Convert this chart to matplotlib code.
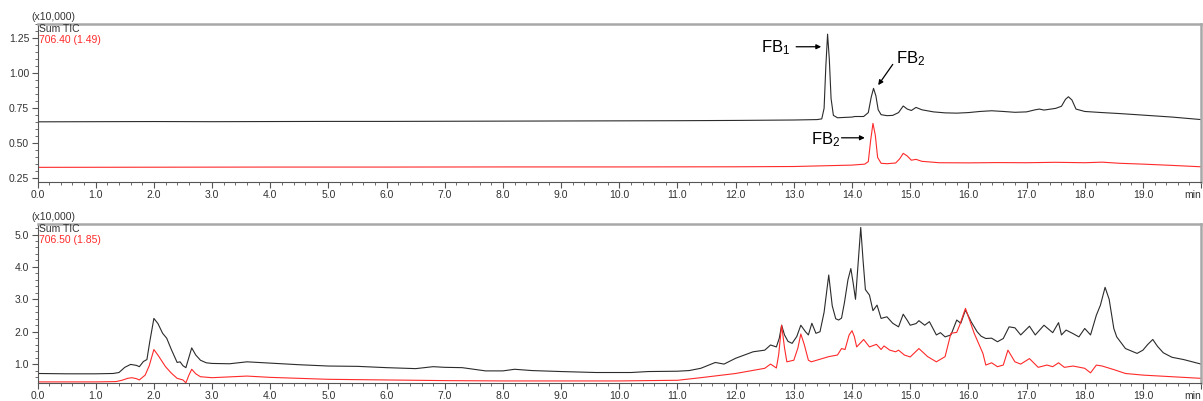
import matplotlib
matplotlib.use("Agg")
import matplotlib.pyplot as plt
from matplotlib.ticker import MultipleLocator, FixedLocator

plt.rcParams['font.family'] = ['Liberation Sans', 'DejaVu Sans']
plt.rcParams['mathtext.fontset'] = 'custom'
plt.rcParams['mathtext.rm'] = 'Liberation Sans'
plt.rcParams['mathtext.it'] = 'Liberation Sans'

# ---------------- data (x10,000 counts vs minutes) ----------------
top_black_t = [0.0, 1.0, 2.0, 3.0, 4.0, 5.0, 6.0, 7.0, 8.0, 9.0, 10.0, 11.0, 12.0, 13.0, 13.4,
               13.48, 13.52, 13.55, 13.58, 13.61, 13.64, 13.68, 13.75, 14.0, 14.05, 14.2, 14.28,
               14.33, 14.37, 14.41, 14.45, 14.5, 14.6, 14.7, 14.8, 14.88, 14.95, 15.02, 15.1, 15.2,
               15.4, 15.6, 15.8, 16.0, 16.2, 16.4, 16.6, 16.8, 17.0, 17.15, 17.22, 17.3, 17.5, 17.6,
               17.67, 17.72, 17.78, 17.85, 18.0, 18.3, 18.6, 19.0, 19.5, 20.0]
top_black_v = [0.654, 0.655, 0.656, 0.655, 0.656, 0.657, 0.657, 0.658, 0.659, 0.660, 0.661, 0.662,
               0.664, 0.667, 0.670, 0.675, 0.75, 1.05, 1.28, 1.10, 0.82, 0.70, 0.683, 0.688, 0.692,
               0.692, 0.72, 0.83, 0.893, 0.84, 0.74, 0.705, 0.698, 0.700, 0.72, 0.767, 0.745, 0.735,
               0.757, 0.74, 0.725, 0.718, 0.716, 0.72, 0.728, 0.733, 0.728, 0.722, 0.725, 0.740,
               0.745, 0.738, 0.75, 0.765, 0.815, 0.833, 0.81, 0.745, 0.728, 0.72, 0.713, 0.702,
               0.688, 0.670]

top_red_t = [0.0, 2.0, 4.0, 6.0, 8.0, 10.0, 12.0, 13.0, 14.0, 14.22, 14.28, 14.32, 14.36, 14.40,
             14.44, 14.5, 14.6, 14.75, 14.82, 14.88, 14.95, 15.02, 15.1, 15.2, 15.5, 16.0, 16.5,
             17.0, 17.5, 18.0, 18.3, 18.6, 19.0, 19.5, 20.0]
top_red_v = [0.329, 0.330, 0.331, 0.331, 0.332, 0.332, 0.333, 0.335, 0.345, 0.352, 0.37, 0.52,
             0.643, 0.56, 0.40, 0.358, 0.355, 0.36, 0.39, 0.429, 0.41, 0.38, 0.386, 0.372, 0.362,
             0.361, 0.363, 0.362, 0.365, 0.362, 0.366, 0.358, 0.352, 0.343, 0.333]

bot_black_t = [0.0, 0.5, 1.0, 1.3, 1.4, 1.5, 1.6, 1.7, 1.75, 1.82, 1.88, 1.93, 2.0, 2.07, 2.15,
               2.22, 2.3, 2.4, 2.45, 2.5, 2.55, 2.6, 2.65, 2.72, 2.8, 2.9, 3.0, 3.3, 3.6, 3.8, 4.0,
               4.5, 5.0, 5.5, 6.0, 6.5, 6.8, 7.0, 7.3, 7.7, 8.0, 8.2, 8.5, 9.0, 9.6, 10.2, 10.5,
               11.0, 11.2, 11.4, 11.55, 11.65, 11.8, 12.0, 12.3, 12.5, 12.6, 12.7, 12.75, 12.79,
               12.84, 12.9, 12.97, 13.05, 13.12, 13.2, 13.25, 13.31, 13.38, 13.45, 13.52, 13.6,
               13.66, 13.72, 13.77, 13.82, 13.87, 13.93, 13.98, 14.02, 14.06, 14.1, 14.15, 14.19,
               14.23, 14.3, 14.36, 14.43, 14.5, 14.6, 14.7, 14.8, 14.88, 14.95, 15.0, 15.1, 15.15,
               15.25, 15.33, 15.45, 15.52, 15.6, 15.7, 15.8, 15.87, 15.95, 16.05, 16.15, 16.22,
               16.3, 16.4, 16.5, 16.6, 16.7, 16.8, 16.9, 17.05, 17.15, 17.3, 17.45, 17.55, 17.6,
               17.68, 17.8, 17.9, 18.0, 18.1, 18.2, 18.27, 18.35, 18.42, 18.5, 18.55, 18.7, 18.9,
               19.0, 19.08, 19.17, 19.25, 19.35, 19.5, 19.7, 20.0]
bot_black_v = [0.71, 0.70, 0.70, 0.71, 0.74, 0.90, 0.99, 0.96, 0.92, 1.08, 1.14, 1.7, 2.41, 2.25,
               1.95, 1.80, 1.45, 1.05, 1.07, 0.95, 0.89, 1.2, 1.50, 1.28, 1.12, 1.04, 1.02, 1.01,
               1.07, 1.05, 1.03, 0.98, 0.94, 0.93, 0.89, 0.86, 0.92, 0.90, 0.89, 0.79, 0.79, 0.84,
               0.80, 0.77, 0.74, 0.74, 0.77, 0.78, 0.80, 0.87, 0.98, 1.05, 1.00, 1.18, 1.38, 1.43,
               1.59, 1.53, 1.8, 2.20, 1.90, 1.70, 1.64, 1.85, 2.20, 2.0, 1.90, 2.26, 1.95, 2.00,
               2.6, 3.75, 2.8, 2.40, 2.36, 2.42, 2.9, 3.6, 3.95, 3.5, 3.0, 4.0, 5.22, 4.2, 3.3,
               3.13, 2.65, 2.82, 2.41, 2.46, 2.26, 2.15, 2.54, 2.35, 2.20, 2.25, 2.34, 2.20, 2.31,
               1.90, 1.97, 1.84, 1.90, 2.36, 2.26, 2.67, 2.3, 2.0, 1.86, 1.79, 1.80, 1.69, 1.79,
               2.15, 2.12, 1.90, 2.17, 1.90, 2.20, 1.97, 2.28, 1.90, 2.05, 1.94, 1.84, 2.10, 1.90,
               2.51, 2.82, 3.37, 3.0, 2.1, 1.84, 1.48, 1.33, 1.43, 1.6, 1.76, 1.55, 1.35, 1.21,
               1.14, 1.00]

bot_red_t = [0.0, 1.0, 1.35, 1.45, 1.55, 1.62, 1.7, 1.75, 1.85, 1.92, 2.0, 2.08, 2.2, 2.3, 2.4,
             2.5, 2.55, 2.6, 2.65, 2.72, 2.8, 3.0, 3.6, 4.0, 4.5, 5.0, 6.0, 7.0, 8.0, 9.0, 10.0,
             11.0, 11.4, 12.0, 12.5, 12.6, 12.7, 12.74, 12.79, 12.84, 12.88, 13.0, 13.07, 13.12,
             13.18, 13.25, 13.3, 13.45, 13.6, 13.75, 13.82, 13.88, 13.95, 14.0, 14.04, 14.08,
             14.2, 14.3, 14.42, 14.5, 14.55, 14.65, 14.75, 14.8, 14.9, 15.0, 15.15, 15.3, 15.45,
             15.6, 15.7, 15.8, 15.85, 15.95, 16.1, 16.25, 16.3, 16.4, 16.5, 16.6, 16.68, 16.8,
             16.9, 17.05, 17.2, 17.35, 17.45, 17.55, 17.65, 17.8, 18.0, 18.1, 18.2, 18.3, 18.5,
             18.7, 19.0, 19.5, 20.0]
bot_red_v = [0.45, 0.45, 0.46, 0.50, 0.56, 0.58, 0.55, 0.51, 0.66, 0.95, 1.45, 1.25, 0.92, 0.72,
             0.56, 0.51, 0.42, 0.65, 0.84, 0.70, 0.61, 0.58, 0.63, 0.59, 0.56, 0.53, 0.51, 0.49,
             0.48, 0.48, 0.48, 0.50, 0.58, 0.71, 0.87, 1.00, 0.88, 1.3, 2.20, 1.5, 1.07, 1.12,
             1.5, 1.93, 1.6, 1.12, 1.07, 1.15, 1.23, 1.28, 1.48, 1.45, 1.9, 2.03, 1.85, 1.53,
             1.76, 1.53, 1.61, 1.45, 1.56, 1.43, 1.38, 1.43, 1.28, 1.22, 1.48, 1.23, 1.07, 1.23,
             1.95, 1.98, 2.20, 2.72, 1.95, 1.33, 0.97, 1.04, 0.92, 0.97, 1.43, 1.07, 1.00, 1.17,
             0.90, 0.97, 0.92, 1.04, 0.90, 0.94, 0.87, 0.73, 0.97, 0.94, 0.83, 0.71, 0.66, 0.61,
             0.56]

x_ticks = [float(i) for i in range(21)]
x_tick_labels = [f"{i:.1f}" for i in range(20)] + ["min"]
top_yticks = [0.25, 0.50, 0.75, 1.00, 1.25]
bot_yticks = [1.0, 2.0, 3.0, 4.0, 5.0]
top_labels = ["Sum TIC", "706.40 (1.49)"]
bot_labels = ["Sum TIC", "706.50 (1.85)"]

BLACK = "#2b2b2b"
RED = "#ff2a2a"
GRID_GRAY = "#a8a8a8"
TXT = "#333333"

fig = plt.figure(figsize=(12.03, 4.01), dpi=100)
ax1 = fig.add_axes([0.0312, 0.546, 0.9672, 0.394])
ax2 = fig.add_axes([0.0312, 0.046, 0.9672, 0.395])


def style(ax, yticks, fmt, ylim, minor_y, labels):
    ax.set_xlim(0, 20)
    ax.set_ylim(*ylim)
    ax.xaxis.set_major_locator(FixedLocator(x_ticks))
    ax.set_xticklabels(x_tick_labels)
    ax.get_xticklabels()[-1].set_horizontalalignment('right')
    ax.xaxis.set_minor_locator(MultipleLocator(0.2))
    ax.yaxis.set_major_locator(FixedLocator(yticks))
    ax.set_yticklabels([fmt.format(v) for v in yticks])
    ax.yaxis.set_minor_locator(MultipleLocator(minor_y))
    ax.tick_params(axis='both', which='major', direction='out', length=4, width=0.8,
                   color="#555555", labelsize=7.5, labelcolor=TXT, pad=2)
    ax.tick_params(axis='both', which='minor', direction='out', length=2, width=0.6,
                   color="#555555")
    for s in ("left", "bottom"):
        ax.spines[s].set_color("#555555")
        ax.spines[s].set_linewidth(0.8)
    for s in ("top", "right"):
        ax.spines[s].set_color(GRID_GRAY)
        ax.spines[s].set_linewidth(1.8)
    ax.text(-0.005, 1.045, "(x10,000)", transform=ax.transAxes, fontsize=7.5, color=TXT,
            ha='left', va='center')
    ax.text(0.001, 0.968, labels[0], transform=ax.transAxes, fontsize=7.5, color=TXT,
            ha='left', va='center')
    ax.text(0.001, 0.899, labels[1], transform=ax.transAxes, fontsize=7.5, color=RED,
            ha='left', va='center')


ax1.plot(top_black_t, top_black_v, color=BLACK, lw=0.8)
ax1.plot(top_red_t, top_red_v, color=RED, lw=0.8)
style(ax1, top_yticks, "{:.2f}", (0.224, 1.352), 0.05, top_labels)

ax2.plot(bot_black_t, bot_black_v, color=BLACK, lw=0.8)
ax2.plot(bot_red_t, bot_red_v, color=RED, lw=0.8)
style(ax2, bot_yticks, "{:.1f}", (0.43, 5.32), 0.2, bot_labels)

arrow = dict(arrowstyle="-|>", color="black", lw=0.9, mutation_scale=7,
             shrinkA=0, shrinkB=0)
ax1.text(12.69, 1.186, "FB$_{1}$", fontsize=12, ha='center', va='center')
ax1.annotate("", xy=(13.47, 1.19), xytext=(13.04, 1.19), arrowprops=arrow)
ax1.text(15.0, 1.107, "FB$_{2}$", fontsize=12, ha='center', va='center')
ax1.annotate("", xy=(14.45, 0.916), xytext=(14.70, 1.064), arrowprops=arrow)
ax1.text(13.54, 0.524, "FB$_{2}$", fontsize=12, ha='center', va='center')
ax1.annotate("", xy=(14.22, 0.54), xytext=(13.82, 0.54), arrowprops=arrow)

fig.savefig("out.png", dpi=100)
